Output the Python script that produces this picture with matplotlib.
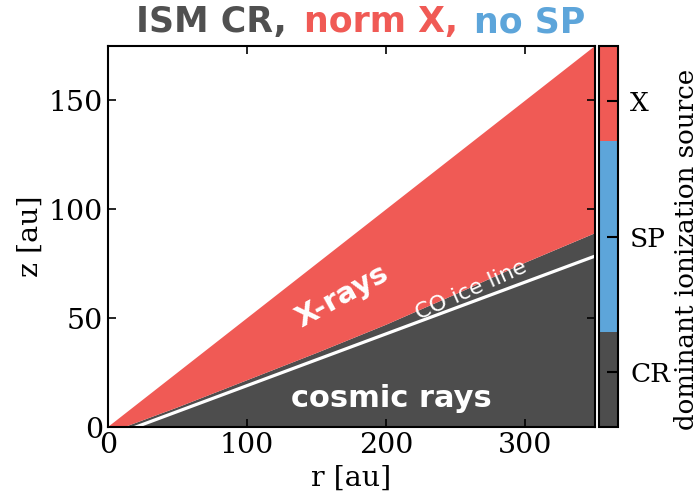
import numpy as np
import matplotlib
import matplotlib.pyplot as plt
from matplotlib.colors import ListedColormap, BoundaryNorm
from matplotlib.offsetbox import TextArea, HPacker, AnchoredOffsetbox

# colours
c_cr = '#4d4d4d'
c_x = '#f05a55'
c_sp = '#5da5da'

# disc surface (upper edge of the model domain)
surf_r = [0, 350]
surf_z = [0, 175]

# boundary between CR- and X-ray-dominated regions
bnd_r = [0, 12, 50, 100, 150, 200, 250, 300, 350]
bnd_z = [0, 0, 9, 21.5, 34, 47, 61, 75.5, 89]

# CO ice line
ice_r = [20, 350]
ice_z = [0, 78.5]

# colorbar categories
cb_labels = ['CR', 'SP', 'X']
cb_bounds = [0, 0.25, 0.75, 1.0]
cb_ticks = [0.145, 0.5, 0.855]

plt.rcParams['font.family'] = 'DejaVu Serif'
plt.rcParams['font.size'] = 20.5

fig = plt.figure(figsize=(6.98, 4.97), dpi=100)
ax = fig.add_axes([0.1547, 0.1408, 0.6977, 0.7666])

# dark region below boundary, red between boundary and surface
ax.fill(bnd_r + [bnd_r[-1]], bnd_z + [0], color=c_cr, lw=0)
ax.fill(surf_r + bnd_r[::-1], surf_z + bnd_z[::-1], color=c_x, lw=0)
ax.plot(ice_r, ice_z, color='white', lw=2.3)

ax.set_xlim(0, 350)
ax.set_ylim(0, 175)
ax.set_xticks([0, 100, 200, 300])
ax.set_yticks([0, 50, 100, 150])
ax.tick_params(direction='in', top=True, right=True, length=6, width=1.2)
for s in ax.spines.values():
    s.set_linewidth(1.5)
ax.set_xlabel('r [au]', labelpad=4)
ax.set_ylabel('z [au]')

ax.text(168, 60, 'X-rays', color='white', fontsize=21, fontweight='bold',
        family='DejaVu Sans', rotation=29, ha='center', va='center')
ax.text(261, 63, 'CO ice line', color='white', fontsize=16,
        family='DejaVu Sans', rotation=24, ha='center', va='center')
ax.text(204, 13, 'cosmic rays', color='white', fontsize=22, fontweight='bold',
        family='DejaVu Sans', ha='center', va='center')

# colorbar
cax = fig.add_axes([0.858, 0.1408, 0.027, 0.7666])
cmap = ListedColormap([c_cr, c_sp, c_x])
norm = BoundaryNorm(cb_bounds, cmap.N)
cb = matplotlib.colorbar.ColorbarBase(cax, cmap=cmap, norm=norm,
                                      spacing='proportional', ticks=cb_ticks)
cb.set_ticklabels(cb_labels)
cax.minorticks_off()
cax.tick_params(direction='in', length=8, width=1.5, color='black',
                labelsize=19, pad=9)
cb.outline.set_linewidth(1.5)
cb.set_label('dominant ionization source', fontsize=18.8, labelpad=3)
cax.yaxis.label.set_y(0.467)

# multi-coloured title
tkw = dict(fontsize=25, fontweight='bold', family='DejaVu Sans')
parts = [TextArea('ISM CR,', textprops=dict(color='#505050', **tkw)),
         TextArea('norm X,', textprops=dict(color=c_x, **tkw)),
         TextArea('no SP', textprops=dict(color=c_sp, **tkw))]
box = HPacker(children=parts, align='baseline', pad=0, sep=12)
anc = AnchoredOffsetbox(loc='center', child=box, frameon=False,
                        bbox_to_anchor=(0.517, 0.955), bbox_transform=fig.transFigure)
fig.add_artist(anc)

fig.savefig('out.png', dpi=100)
